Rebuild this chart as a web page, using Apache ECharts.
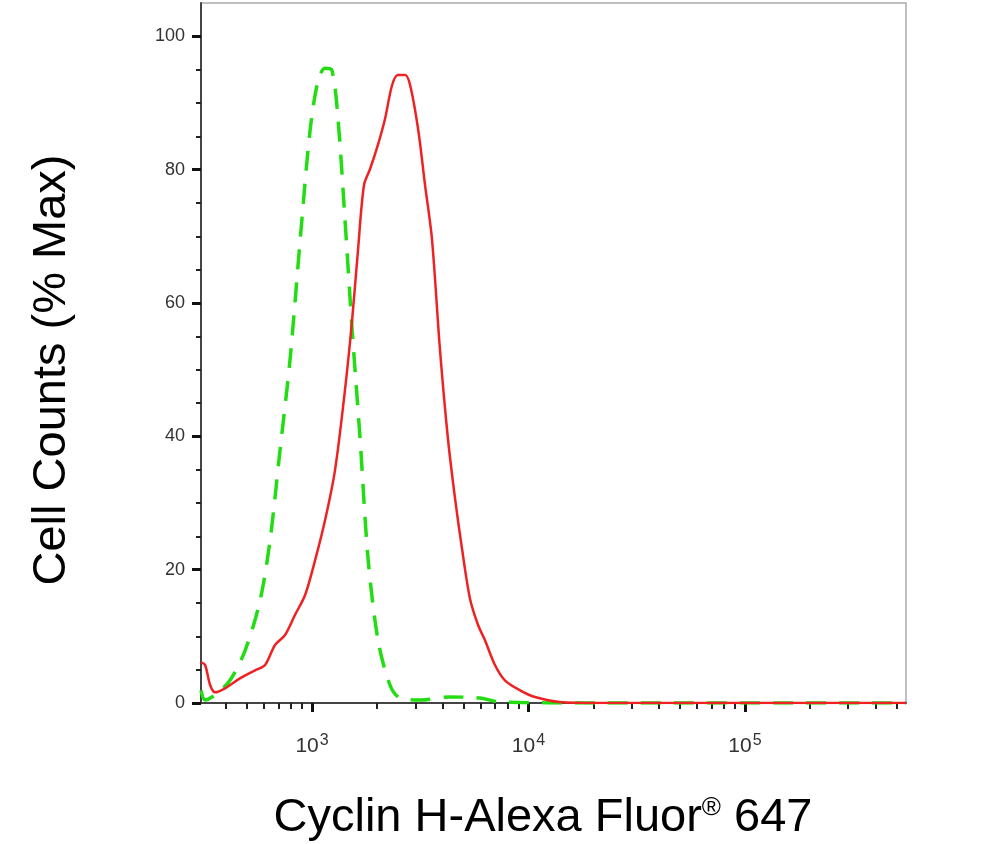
<!DOCTYPE html>
<html>
<head>
<meta charset="utf-8">
<script src="https://cdn.jsdelivr.net/npm/echarts@6/dist/echarts.min.js"></script>
<style>
  html, body { margin: 0; padding: 0; background: #fff; }
  #chart { width: 981px; height: 844px; }
</style>
</head>
<body>
<div id="chart"></div>
<script>
// x values are log10(fluorescence), y values are % of max
const redX = [2.487, 2.506, 2.529, 2.552, 2.598, 2.667, 2.737, 2.783, 2.829, 2.875, 2.921, 2.968, 3.014, 3.060, 3.106, 3.152, 3.185, 3.212, 3.240, 3.268, 3.305, 3.337, 3.370, 3.397, 3.430, 3.453, 3.490, 3.522, 3.554, 3.591, 3.628, 3.661, 3.693, 3.730, 3.767, 3.799, 3.845, 3.891, 3.961, 4.030, 4.145, 4.330, 5.744]
const redY = [6.1, 5.7, 2.7, 1.6, 2.2, 3.7, 4.9, 5.7, 8.7, 10.2, 13.2, 16.2, 21.4, 27.4, 34.9, 46.9, 57.4, 67.8, 77.7, 80.1, 83.8, 87.6, 92.7, 94.2, 94.2, 92.7, 86.1, 77.7, 69.6, 53.0, 39.6, 30.6, 23.1, 15.6, 11.7, 9.4, 5.7, 3.4, 1.9, 0.9, 0.15, 0, 0]
const greenX = [2.487, 2.506, 2.552, 2.621, 2.691, 2.760, 2.806, 2.852, 2.898, 2.945, 2.991, 3.028, 3.060, 3.092, 3.120, 3.152, 3.185, 3.222, 3.259, 3.305, 3.360, 3.406, 3.499, 3.637, 3.776, 3.868, 4.330, 5.744]
const greenY = [1.9, 0.45, 1.2, 3.4, 7.9, 15.4, 24.4, 37.9, 51.4, 69.4, 85.9, 93.4, 95.2, 94.9, 87.6, 72.6, 56.1, 39.6, 21.6, 9.4, 2.7, 0.75, 0.45, 0.9, 0.75, 0.15, 0, 0]

const xMajor = [3, 4, 5]
const yMajor = [0, 20, 40, 60, 80, 100]
const yMinor = [5, 10, 15, 25, 30, 35, 45, 50, 55, 65, 70, 75, 85, 90, 95]

// 对数轴的次刻度
let xMinor = []
for (let n = 2; n <= 5; n++) {
  for (let k = 2; k <= 9; k++) {
    let v = n + Math.log10(k)
    if (v > 2.487 && v < 5.744) xMinor.push(v)
  }
}

const zip = (xs, ys) => xs.map((x, i) => [x, ys[i]])
const font = '"Liberation Sans", Arial, sans-serif'

let myChart = echarts.init(document.getElementById('chart'))
let baseX = {
  type: 'value', min: 2.487, max: 5.744, position: 'bottom',
  splitLine: { show: false }
}
let baseY = {
  type: 'value', min: 0, max: 105, position: 'left',
  splitLine: { show: false }
}
let option = {
  animation: false,
  grid: {
    left: 201, right: 75, top: 3, bottom: 141,
    show: true, borderColor: '#aaa', borderWidth: 1.5
  },
  xAxis: [
    Object.assign({}, baseX, {
      axisLine: { lineStyle: { color: '#444', width: 2 } },
      axisTick: { customValues: xMajor, length: 9, lineStyle: { color: '#111', width: 3 } },
      axisLabel: {
        customValues: xMajor, margin: 30, color: '#333', fontFamily: font,
        formatter: v => '{b|10}{s|' + v + '}',
        rich: {
          b: { fontSize: 21, fontFamily: font, color: '#333', verticalAlign: 'bottom', lineHeight: 24 },
          s: { fontSize: 16, fontFamily: font, color: '#333', verticalAlign: 'top', lineHeight: 16, padding: [0, 0, 0, 1] }
        }
      }
    }),
    Object.assign({}, baseX, {
      axisLine: { show: false },
      axisTick: { customValues: xMinor, length: 6, lineStyle: { color: '#222', width: 2 } },
      axisLabel: { show: false }
    })
  ],
  yAxis: [
    Object.assign({}, baseY, {
      axisLine: { show: true, lineStyle: { color: '#444', width: 2 } },
      axisTick: { show: true, customValues: yMajor, length: 9, lineStyle: { color: '#111', width: 3 } },
      axisLabel: { customValues: yMajor, margin: 16, color: '#333', fontSize: 18, fontFamily: font }
    }),
    Object.assign({}, baseY, {
      axisLine: { show: false },
      axisTick: { show: true, customValues: yMinor, length: 5, lineStyle: { color: '#222', width: 2 } },
      axisLabel: { show: false }
    })
  ],
  graphic: [
    {
      type: 'text', x: 52, y: 370, rotation: Math.PI / 2,
      style: { text: 'Cell Counts (% Max)', font: '47px ' + font, fill: '#000', align: 'center', verticalAlign: 'middle' }
    },
    {
      type: 'text', x: 543, y: 818,
      style: {
        text: '{m|Cyclin H-Alexa Fluor}{r|®}{m| 647}', align: 'center', verticalAlign: 'middle',
        rich: {
          m: { font: '47px ' + font, fill: '#000' },
          r: { font: '26px ' + font, fill: '#000', verticalAlign: 'top', padding: [0, 0, 12, 0] }
        }
      }
    }
  ],
  series: [
    {
      type: 'line', data: zip(greenX, greenY), smooth: 0.3, symbol: 'none',
      lineStyle: { color: '#22dd11', width: 3.5, type: [20, 13] }
    },
    {
      type: 'line', data: zip(redX, redY), smooth: 0.3, symbol: 'none',
      lineStyle: { color: '#ee2222', width: 2.5 }
    }
  ]
}
myChart.setOption(option)
</script>
</body>
</html>
